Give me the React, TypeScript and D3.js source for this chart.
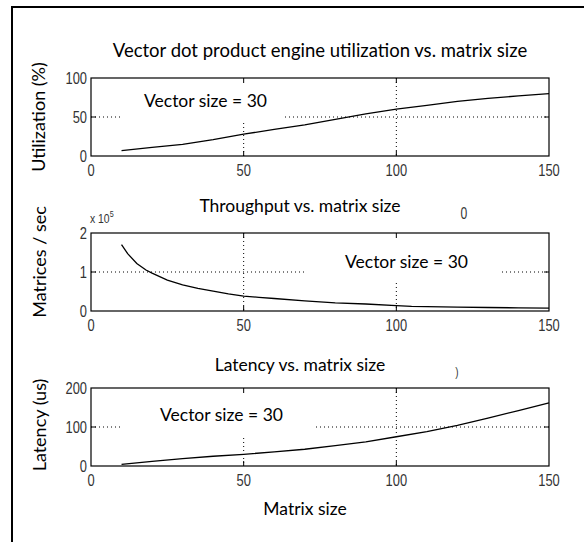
import React from 'react';
import * as d3 from 'd3';

// values
const utilSizes = [10, 20, 30, 40, 50, 60, 70, 80, 90, 100, 110, 120, 130, 140, 150];
const utilization = [7, 11, 15, 21, 28, 34, 40, 47, 54, 60, 65, 70, 74, 77, 80];

const tputSizes = [10, 12, 15, 18, 20, 25, 30, 35, 40, 45, 50, 55, 60, 70, 80, 90, 100, 105, 110, 120, 130, 140, 150];
const throughput = [1.7, 1.47, 1.22, 1.05, 0.97, 0.79, 0.67, 0.58, 0.51, 0.44, 0.38, 0.35, 0.32, 0.26, 0.21, 0.18, 0.14, 0.12, 0.11, 0.1, 0.09, 0.08, 0.075];

const latSizes = [10, 20, 30, 40, 50, 60, 70, 80, 90, 100, 110, 120, 130, 140, 150];
const latency = [4, 12, 19, 25, 30, 36, 43, 52, 62, 75, 88, 104, 123, 142, 162];

const xTicks = [0, 50, 100, 150];
const utilTicks = [0, 50, 100];
const tputTicks = [0, 1, 2];
const latTicks = [0, 100, 200];

const labelFont = "Lato, 'Open Sans', sans-serif";
const tickFont = "'Liberation Sans', sans-serif";

const x = d3.scaleLinear().domain([0, 150]).range([91, 549]);

// narrow tick labels, like the old MATLAB screen font
const Tick = ({ tx, ty, anchor, children, size = 17 }) => (
  <text transform={`translate(${tx},${ty}) scale(0.76,1)`} textAnchor={anchor} fontFamily={tickFont} fontSize={size} fill="#333">{children}</text>
);

const Panel = ({ xs, ys, yTicks, yDomain, top, bottom, gaps }) => {
  const y = d3.scaleLinear().domain(yDomain).range([bottom, top]);
  const line = d3.line().x((d, i) => x(xs[i])).y(d => y(d));
  const [x0, x1] = x.range();
  const midY = y(yTicks[1]);
  return (
    <g>
      {/* dotted grid, parts hidden by the annotation box */}
      {gaps.h.map(([a, b], i) => (
        <line key={'h' + i} x1={a} x2={b} y1={midY} y2={midY} stroke="#000" strokeDasharray="1,3" />
      ))}
      {gaps.v.map(([val, a], i) => (
        <line key={'v' + i} x1={x(val)} x2={x(val)} y1={a} y2={bottom} stroke="#000" strokeDasharray="1,3" />
      ))}
      <rect x={x0} y={top} width={x1 - x0} height={bottom - top} fill="none" stroke="#000" strokeWidth={1.2} />
      {xTicks.slice(1, -1).map(t => (
        <g key={'xt' + t}>
          <line x1={x(t)} x2={x(t)} y1={bottom} y2={bottom - 5} stroke="#000" />
          <line x1={x(t)} x2={x(t)} y1={top} y2={top + 5} stroke="#000" />
        </g>
      ))}
      <line x1={x0} x2={x0 + 5} y1={midY} y2={midY} stroke="#000" />
      <line x1={x1} x2={x1 - 5} y1={midY} y2={midY} stroke="#000" />
      {xTicks.map(t => (
        <Tick key={'xl' + t} tx={x(t)} ty={bottom + 20} anchor="middle">{t}</Tick>
      ))}
      {yTicks.map(t => (
        <Tick key={'yl' + t} tx={x0 - 4} ty={y(t) + 6} anchor="end">{t}</Tick>
      ))}
      <path d={line(ys)} fill="none" stroke="#000" strokeWidth={1.3} />
    </g>
  );
};

export default function App() {
  return (
    <svg width={584} height={542} style={{ position: 'absolute', left: 0, top: 0, background: '#fff' }}>
      <rect x={0} y={0} width={584} height={542} fill="#fff" />
      <line x1={12} x2={584} y1={7} y2={7} stroke="#000" strokeWidth={2} />
      <line x1={12} x2={12} y1={6} y2={542} stroke="#000" strokeWidth={2} />

      <text x={320} y={57} textAnchor="middle" fontFamily={labelFont} fontSize={18.5}>Vector dot product engine utilization vs. matrix size</text>
      <Panel xs={utilSizes} ys={utilization} yTicks={utilTicks} yDomain={[0, 100]} top={78} bottom={156}
        gaps={{ h: [[91, 123], [285, 549]], v: [[50, 123], [100, 78]] }} />
      <text x={144} y={107} fontFamily={labelFont} fontSize={17.5}>Vector size = 30</text>
      <text transform="translate(45,117) rotate(-90)" textAnchor="middle" fontFamily={labelFont} fontSize={18}>Utilization (%)</text>

      <text x={300} y={212} textAnchor="middle" fontFamily={labelFont} fontSize={17.5}>Throughput vs. matrix size</text>
      <Tick tx={464} ty={219} anchor="middle" size={16}>0</Tick>
      <text transform="translate(90,223) scale(0.8,1)" fontFamily={tickFont} fontSize={13} fill="#333">x 10<tspan dy={-6} fontSize={9}>5</tspan></text>
      <Panel xs={tputSizes} ys={throughput} yTicks={tputTicks} yDomain={[0, 2]} top={233} bottom={311}
        gaps={{ h: [[91, 307], [502, 549]], v: [[50, 233], [100, 283]] }} />
      <text x={345} y={268} fontFamily={labelFont} fontSize={17.5}>Vector size = 30</text>
      <text transform="translate(46,262) rotate(-90)" textAnchor="middle" fontFamily={labelFont} fontSize={18}>Matrices / sec</text>

      <text x={300} y={371} textAnchor="middle" fontFamily={labelFont} fontSize={17.5}>Latency vs. matrix size</text>
      <Tick tx={457} ty={376} anchor="middle" size={13}>)</Tick>
      <Panel xs={latSizes} ys={latency} yTicks={latTicks} yDomain={[0, 200]} top={388} bottom={466}
        gaps={{ h: [[91, 123], [316, 549]], v: [[50, 438], [100, 388]] }} />
      <text x={160} y={421} fontFamily={labelFont} fontSize={17.5}>Vector size = 30</text>
      <text transform="translate(46,425) rotate(-90)" textAnchor="middle" fontFamily={labelFont} fontSize={18}>Latency (us)</text>

      <text x={305} y={515} textAnchor="middle" fontFamily={labelFont} fontSize={17.5}>Matrix size</text>
    </svg>
  );
}
